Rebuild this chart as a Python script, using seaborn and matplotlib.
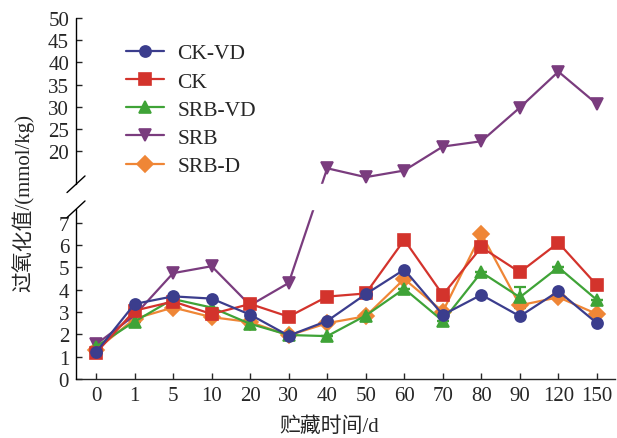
import numpy as np
import pandas as pd
import seaborn as sns
import matplotlib.pyplot as plt

# storage days (categorical x)
days = ['0', '1', '5', '10', '20', '30', '40', '50', '60', '70', '80', '90', '120', '150']

ck_vd = [1.2, 3.36, 3.7, 3.6, 2.88, 1.94, 2.6, 3.8, 4.9, 2.87, 3.77, 2.81, 3.93, 2.5]
ck = [1.17, 3.06, 3.47, 2.91, 3.36, 2.79, 3.69, 3.83, 6.23, 3.77, 5.9, 4.78, 6.1, 4.2]
srb_vd = [1.45, 2.57, 3.58, 3.2, 2.47, 1.97, 1.92, 2.84, 4.04, 2.6, 4.78, 3.66, 5.0, 3.54]
srb = [1.55, 2.85, 4.74, 5.05, 3.3, 4.3, 16.1, 14.1, 15.6, 21.0, 22.2, 29.8, 37.9, 30.6]
srb_d = [1.3, 2.7, 3.2, 2.77, 2.55, 1.95, 2.5, 2.81, 4.48, 3.02, 6.5, 3.3, 3.66, 2.91]
srb_vd_err = [0, 0, 0, 0, 0, 0, 0, 0, 0, 0, 0, 0.47, 0, 0]

groups = ['CK-VD', 'CK', 'SRB-VD', 'SRB', 'SRB-D']
colors = ['#3b3d8d', '#d3332c', '#3fa337', '#7a3c7e', '#ef8636']
markers = ['o', 's', '^', 'v', 'D']

df = pd.DataFrame({
    'day': days * 5,
    'value': ck_vd + ck + srb_vd + srb + srb_d,
    'group': np.repeat(groups, len(days)),
})

# broken y axis: 0-7.6 normal, 12.5-50 compressed
LOW_TOP, HIGH_BOT, GAP, R = 7.6, 12.5, 1.12, 0.1985


def fwd(y):
    y = np.asarray(y, dtype=float)
    mid = LOW_TOP + (y - LOW_TOP) * GAP / (HIGH_BOT - LOW_TOP)
    high = LOW_TOP + GAP + (y - HIGH_BOT) * R
    return np.where(y <= LOW_TOP, y, np.where(y >= HIGH_BOT, high, mid))


def inv(v):
    v = np.asarray(v, dtype=float)
    mid = LOW_TOP + (v - LOW_TOP) * (HIGH_BOT - LOW_TOP) / GAP
    high = HIGH_BOT + (v - LOW_TOP - GAP) / R
    return np.where(v <= LOW_TOP, v, np.where(v >= LOW_TOP + GAP, high, mid))


sns.set_style('ticks')
plt.rcParams['font.family'] = ['Liberation Serif', 'Noto Sans CJK SC']

fig = plt.figure(figsize=(6.17, 4.39), dpi=100)
ax = fig.add_axes([0.1232, 0.1344, 0.8736, 0.8223])
ax.set_yscale('function', functions=(fwd, inv))

sns.pointplot(data=df, x='day', y='value', hue='group', order=days,
              hue_order=groups[::-1], palette=dict(zip(groups, colors)),
              markers=markers[::-1], linestyles='-', errorbar=None,
              markersize=8, linewidth=1.6, ax=ax)

ax.errorbar(np.arange(len(days)), srb_vd, yerr=srb_vd_err, fmt='none',
            ecolor=colors[2], elinewidth=1.6, capsize=4, capthick=1.6, zorder=1)

ax.set_ylim(0, 50)
ax.set_xlim(-0.52, 13.47)
ax.set_yticks(list(range(0, 8)) + list(range(20, 55, 5)))
ax.tick_params(direction='in', length=4, width=1, pad=5, labelsize=15)

# gap of the broken axis
ax.axhspan(LOW_TOP, HIGH_BOT, color='white', zorder=5)
for s in ['top', 'right', 'left']:
    ax.spines[s].set_visible(False)
ax.spines['bottom'].set_linewidth(1)
yt = ax.get_yaxis_transform()
ax.plot([0, 0], [0, LOW_TOP], transform=yt, color='black', lw=1, clip_on=False, zorder=6)
ax.plot([0, 0], [HIGH_BOT, 50], transform=yt, color='black', lw=1, clip_on=False, zorder=6)
top = float(fwd(50))
for yb in [LOW_TOP, HIGH_BOT]:
    ya = float(fwd(yb)) / top
    ax.plot([-0.0167, 0.0167], [ya - 0.023, ya + 0.023], transform=ax.transAxes,
            color='black', lw=1, clip_on=False, zorder=6)

handles, labels = ax.get_legend_handles_labels()
order = [labels.index(g) for g in groups]
ax.legend([handles[i] for i in order], groups, loc='upper left',
          bbox_to_anchor=(0.072, 0.96), frameon=False, fontsize=15.5,
          handlelength=1.8, handletextpad=0.6, labelspacing=0.38, borderpad=0)

ax.set_xlabel('贮藏时间/d', fontsize=15)
ax.set_ylabel('过氧化值/(mmol/kg)', fontsize=15)
ax.xaxis.set_label_coords(0.469, -0.103)
ax.yaxis.set_label_coords(-0.078, 0.49)

fig.savefig('out.png', dpi=100)
